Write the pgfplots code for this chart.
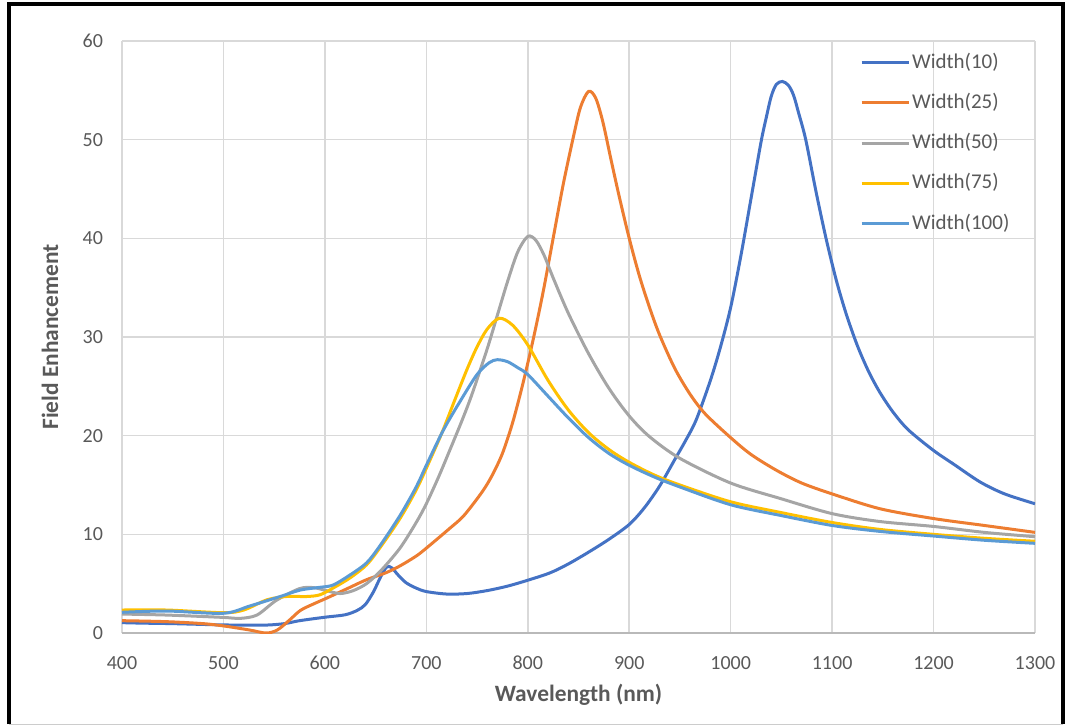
\documentclass[border=0pt]{standalone}
\usepackage{pgfplots}
\pgfplotsset{compat=1.18}
\usepackage{fontspec}
\setmainfont{Carlito}

\definecolor{sBlue}{HTML}{4472C4}
\definecolor{sOrange}{HTML}{ED7D31}
\definecolor{sGray}{HTML}{A5A5A5}
\definecolor{sYellow}{HTML}{FFC000}
\definecolor{sLight}{HTML}{5B9BD5}
\definecolor{txt}{HTML}{595959}
\definecolor{gridc}{HTML}{D9D9D9}

\begin{document}
\begin{tikzpicture}
\path[use as bounding box] (-61pt,-46pt) rectangle (473pt,316.5pt);
\begin{axis}[
    at={(0,0)}, anchor=south west,
    scale only axis,
    width=456.5pt, height=296pt,
    xmin=400, xmax=1300, ymin=0, ymax=60,
    xtick={400,500,...,1300}, ytick={0,10,...,60},
    grid=major,
    major grid style={gridc, line width=0.8pt},
    axis line style={draw=none},
    major tick length=0pt,
    /pgf/number format/assume math mode=true,
    /pgf/number format/1000 sep={},
    tick label style={font=\fontsize{10}{12}\selectfont, text=txt},
    yticklabel style={xshift=-6pt},
    xticklabel style={yshift=-8pt},
    xlabel={Wavelength (nm)},
    ylabel={Field Enhancement},
    label style={font=\fontsize{11.7}{14}\selectfont\bfseries, text=txt},
    xlabel style={at={(axis description cs:0.5,-0.1047)}, anchor=center},
    ylabel style={at={(axis description cs:-0.0789,0.5)}, anchor=center},
    every axis plot/.append style={line width=1.5pt, smooth, tension=0.5},
    legend style={draw=none, fill=none, inner sep=0pt,
        at={(axis description cs:0.808,0.985)}, anchor=north west,
        font=\fontsize{10.5}{12.6}\selectfont, text=txt,
        row sep=7.6pt,
        nodes={inner sep=1pt, text height=8pt, text depth=2.5pt}},
    legend cell align=left,
    legend image code/.code={\draw[#1] (0pt,0pt) -- (23.5pt,0pt);},
]
% bottom axis line
\draw[color=gray!55, line width=0.8pt] (rel axis cs:0,0) -- (rel axis cs:1,0);

\addplot[sBlue] coordinates {
(400,1.05) (420,1.0) (450,0.95) (500,0.82) (540,0.8) (560,0.95) (575,1.25)
(600,1.6) (620,1.85) (632,2.3) (640,2.9) (648,4.2) (655,5.7) (661,6.7)
(666,6.6) (672,5.9) (680,5.1) (690,4.55) (700,4.2) (720,3.95) (740,4.0)
(760,4.3) (780,4.75) (800,5.35) (822,6.1) (840,7.0) (860,8.2) (880,9.5)
(900,11.0) (915,12.7) (930,14.9) (945,17.6) (955,19.4) (966,21.6)
(980,25.6) (990,29.0) (1000,33.0) (1010,38.2) (1020,44.0) (1030,49.8)
(1035,52.2) (1040,54.4) (1045,55.6) (1051,55.9) (1057,55.5) (1062,54.5)
(1067,52.7) (1074,50) (1084,44.8) (1094,40) (1104,35.8) (1114,32.3)
(1125,29.1) (1136,26.5) (1147,24.4) (1160,22.4) (1175,20.6) (1200,18.5)
(1220,17.1) (1246,15.3) (1270,14.1) (1300,13.1)
};
\addlegendentry{Width(10)}

\addplot[sOrange] coordinates {
(400,1.25) (444,1.15) (480,0.95) (500,0.72) (526,0.3) (542,0.0) (553,0.3)
(565,1.3) (576,2.3) (590,3.0) (601,3.5) (620,4.4) (641,5.4) (660,6.1)
(674,6.8) (690,7.8) (700,8.6) (723,10.6) (737,11.9) (755,14.3) (765,16.0)
(775,18.2) (785,21.3) (795,25.2) (805,29.6) (815,34.5) (825,40.0)
(835,45.5) (845,50.3) (852,53.3) (860,54.9) (867,54.2) (874,51.8)
(882,48.0) (890,44.3) (900,40) (910,36.2) (920,33.0) (930,30.2)
(945,26.8) (960,24.2) (975,22.2) (1000,19.8) (1020,18.1) (1045,16.5)
(1070,15.2) (1100,14.1) (1147,12.6) (1200,11.6) (1250,10.9) (1300,10.2)
};
\addlegendentry{Width(25)}

\addplot[sGray] coordinates {
(400,1.92) (444,1.82) (500,1.58) (516,1.48) (533,1.82) (552,3.3) (575,4.5)
(589,4.6) (602,4.28) (615,4.0) (628,4.3) (641,5.0) (655,6.3) (674,8.6)
(690,11.2) (700,13.1) (712,15.8) (723,18.5) (735,21.5) (745,24.2)
(760,28.8) (770,32.2) (780,35.6) (790,38.6) (800,40.2) (808,39.8)
(816,38.3) (825,36.0) (840,32.4) (860,28.3) (880,24.8) (900,22.0)
(920,19.9) (950,17.7) (1000,15.2) (1050,13.6) (1100,12.1) (1147,11.3)
(1200,10.8) (1250,10.2) (1300,9.76)
};
\addlegendentry{Width(50)}

\addplot[sYellow] coordinates {
(400,2.33) (444,2.33) (500,2.06) (520,2.33) (543,3.37) (562,3.7) (582,3.7)
(595,3.87) (608,4.55) (625,5.6) (641,6.9) (654,8.6) (674,11.6) (690,14.5)
(700,16.7) (715,20.2) (728,23.6) (740,26.7) (750,29.0) (760,30.8)
(772,31.9) (785,31.2) (800,29.2) (820,25.6) (840,22.6) (860,20.3)
(880,18.6) (900,17.3) (925,16.0) (950,15.0) (1000,13.3) (1050,12.2)
(1100,11.2) (1147,10.5) (1200,10.0) (1250,9.6) (1300,9.3)
};
\addlegendentry{Width(75)}

\addplot[sLight] coordinates {
(400,2.1) (444,2.23) (500,2.0) (526,2.74) (556,3.7) (576,4.36) (595,4.63)
(608,4.86) (625,5.9) (641,7.1) (654,8.8) (674,11.9) (690,14.8) (700,17.0)
(717,20.6) (734,23.6) (750,26.2) (762,27.4) (770,27.7) (780,27.5)
(790,26.9) (800,26.2) (820,24.0) (840,21.8) (860,19.8) (880,18.2)
(900,17.0) (925,15.8) (950,14.8) (1000,13.0) (1050,11.9) (1100,10.9)
(1147,10.3) (1200,9.83) (1250,9.4) (1300,9.09)
};
\addlegendentry{Width(100)}
\end{axis}
% outer frame
\draw[black, line width=1.6pt] (-56.5pt,-45.5pt) -- (-56.5pt,314.5pt) -- (470.5pt,314.5pt) -- (470.5pt,-45.5pt);
\draw[gray!40, line width=0.6pt] (-56.5pt,-45.6pt) -- (470.5pt,-45.6pt);
\end{tikzpicture}
\end{document}
